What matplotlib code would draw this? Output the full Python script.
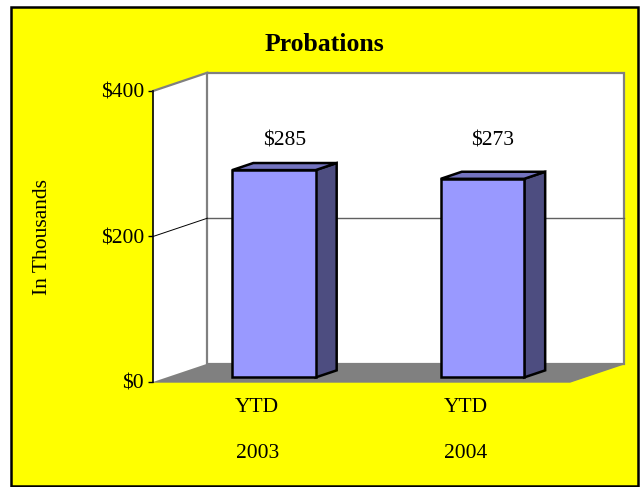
"""
Probations: YTD 2003 vs. YTD 2004 (in Tausend Dollar), Excel-artiges 3D-Saeulendiagramm.
"""
import matplotlib
matplotlib.use("Agg")
import matplotlib.pyplot as plt
from matplotlib.patches import Polygon, Rectangle

# Daten
categories = ["YTD\n\n2003", "YTD\n\n2004"]
values = [285, 273]
value_labels = ["$285", "$273"]
y_ticks = [0, 200, 400]
y_tick_labels = ["$0", "$200", "$400"]

FRONT = "#9999FF"
SIDE = "#4D4D80"
TOP = "#7373BF"
WALL_EDGE = "#808080"
FLOOR = "#808080"
FONT = "Liberation Serif"
FS = 15.5

plt.rcParams["font.family"] = FONT

DPI = 100
fig = plt.figure(figsize=(6.41, 4.87), dpi=DPI)
fig.patch.set_facecolor("white")

# Gelber Hintergrund mit schwarzem Rahmen (hinter den Achsen)
fig.patches.append(Rectangle((11 / 641, 1 / 487), 627 / 641, 479 / 487,
                             transform=fig.transFigure, facecolor="#FFFF00",
                             edgecolor="black", linewidth=1.8, zorder=-10))

ax = fig.add_axes([153 / 641, 105 / 487, 417 / 641, 291 / 487])
ax.set_zorder(1)
ax.set_facecolor("none")
ax.set_xlim(-0.5, len(categories) - 0.5)
ax.set_ylim(0, 400)

# Tiefenvektor (Pixel) in Dateneinheiten umrechnen
DEPTH_PX = (54.4, 18.3)
px_per_x = ax.bbox.width / (ax.get_xlim()[1] - ax.get_xlim()[0])
px_per_y = ax.bbox.height / (ax.get_ylim()[1] - ax.get_ylim()[0])
ddx = DEPTH_PX[0] / px_per_x
ddy = DEPTH_PX[1] / px_per_y


def proj(x, y, d):
    return (x + d * ddx, y + d * ddy)


x_lo, x_hi = ax.get_xlim()
y_lo, y_hi = ax.get_ylim()

# Boden
ax.add_patch(Polygon([proj(x_lo, 0, 0), proj(x_hi, 0, 0), proj(x_hi, 0, 1), proj(x_lo, 0, 1)],
                     closed=True, facecolor=FLOOR, edgecolor=FLOOR, linewidth=1,
                     clip_on=False, zorder=1))
# Linke Wand
ax.add_patch(Polygon([proj(x_lo, 0, 0), proj(x_lo, y_hi, 0), proj(x_lo, y_hi, 1), proj(x_lo, 0, 1)],
                     closed=True, facecolor="white", edgecolor="none",
                     clip_on=False, zorder=1))
# Rueckwand
ax.add_patch(Polygon([proj(x_lo, 0, 1), proj(x_hi, 0, 1), proj(x_hi, y_hi, 1), proj(x_lo, y_hi, 1)],
                     closed=True, facecolor="white", edgecolor=WALL_EDGE, linewidth=1.6,
                     clip_on=False, zorder=1))
# Oberkante linke Wand
ax.plot(*zip(proj(x_lo, y_hi, 0), proj(x_lo, y_hi, 1)), color=WALL_EDGE, lw=1.6,
        clip_on=False, zorder=2)

# Gitterlinien
for t in y_ticks[1:-1]:
    ax.plot(*zip(proj(x_lo, t, 1), proj(x_hi, t, 1)), color="#606060", lw=1.0,
            clip_on=False, zorder=2)
    ax.plot(*zip(proj(x_lo, t, 0), proj(x_lo, t, 1)), color="black", lw=0.7,
            clip_on=False, zorder=2)

# 3D-Saeulen
BAR_W = 0.40
BAR_SHIFT = 0.015
F0, F1 = 0.25, 0.636
for i, v in enumerate(values):
    x0 = i - BAR_W / 2 + BAR_SHIFT
    x1 = i + BAR_W / 2 + BAR_SHIFT
    side = [proj(x1, 0, F0), proj(x1, 0, F1), proj(x1, v, F1), proj(x1, v, F0)]
    top = [proj(x0, v, F0), proj(x1, v, F0), proj(x1, v, F1), proj(x0, v, F1)]
    front = [proj(x0, 0, F0), proj(x1, 0, F0), proj(x1, v, F0), proj(x0, v, F0)]
    for pts, col in [(side, SIDE), (top, TOP), (front, FRONT)]:
        ax.add_patch(Polygon(pts, closed=True, facecolor=col, edgecolor="black",
                             linewidth=1.8, joinstyle="miter", clip_on=False, zorder=3))
    # Werte-Beschriftung ueber der Deckflaeche
    ax.annotate(value_labels[i], xy=proj(i + BAR_SHIFT, max(values), (F0 + F1) / 2),
                xytext=(0, 18.4), textcoords="offset points", ha="center", va="center",
                fontsize=FS, annotation_clip=False, zorder=4)

# Achsen
for s in ["top", "right", "bottom"]:
    ax.spines[s].set_visible(False)
ax.spines["left"].set_linewidth(1.2)
ax.spines["left"].set_zorder(5)
ax.set_yticks(y_ticks, y_tick_labels, fontsize=FS)
ax.tick_params(axis="y", direction="out", length=3.5, width=1, pad=3)
ax.set_xticks(range(len(categories)), categories, fontsize=FS)
ax.tick_params(axis="x", length=0, pad=11.5)
for lab in ax.get_xticklabels():
    lab.set_linespacing(1.27)

ax.set_ylabel("In Thousands", fontsize=FS)
ax.yaxis.set_label_coords(-0.242, 0.498)

fig.text(324 / 641, 1 - 51 / 487, "Probations", ha="center", va="baseline",
         fontsize=18.5, fontweight="bold")

fig.savefig("out.png", dpi=DPI)
